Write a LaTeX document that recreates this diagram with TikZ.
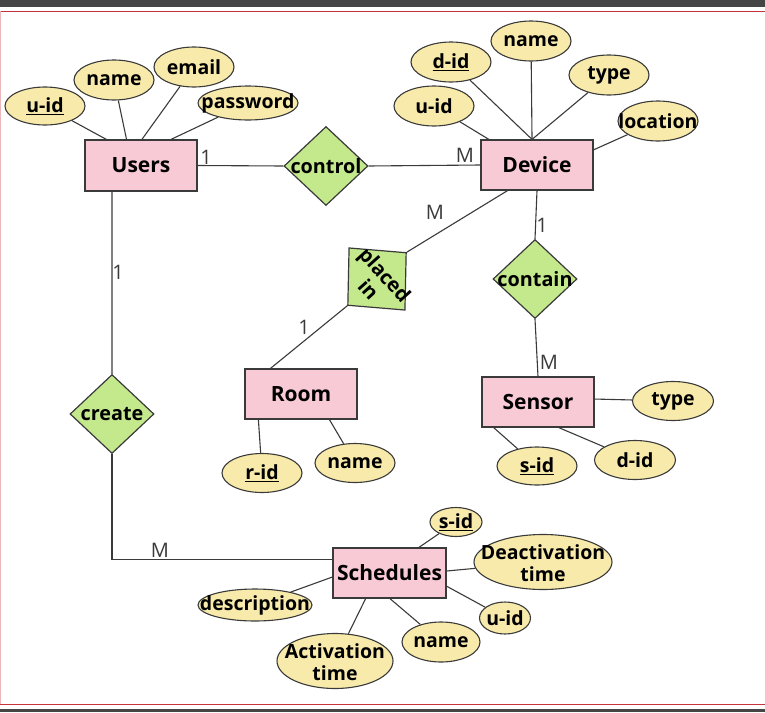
\documentclass[tikz,border=0pt]{standalone}
\usepackage{fontspec}
\setmainfont{Open Sans}
\usetikzlibrary{shapes.geometric}
\definecolor{ent}{HTML}{F8CAD6}
\definecolor{att}{HTML}{F8EAAA}
\definecolor{rel}{HTML}{C4E88C}
\definecolor{ln}{HTML}{3A3A3A}
\definecolor{bandc}{HTML}{454545}
\definecolor{redc}{HTML}{C8323C}
\newcommand\zb[1]{\makebox[0pt]{#1}}
\newcommand\ztwo[2]{\smash{\makebox[0pt]{\raisebox{-9pt}{\begin{tabular}{@{}c@{}}#1\\#2\end{tabular}}}}}
\begin{document}
\begin{tikzpicture}[x=1pt,y=-1pt,
 entity/.style={rectangle, draw=ln, fill=ent, line width=1.2pt, minimum width=112pt, minimum height=50pt, inner sep=0pt, font=\fontsize{21}{24}\selectfont\bfseries},
 attr/.style={ellipse, draw=ln, fill=att, line width=1.1pt, inner sep=0pt, font=\fontsize{19.5}{22}\selectfont\bfseries},
 reldia/.style={diamond, draw=ln, fill=rel, line width=1.2pt, inner sep=0pt, minimum width=84pt, minimum height=79pt},
 reltxt/.style={font=\fontsize{19.8}{22}\selectfont\bfseries, inner sep=0pt},
 card/.style={font=\fontsize{20}{22}\selectfont, text=ln, inner sep=0pt},
 conn/.style={draw=ln, line width=1.1pt}]
\useasboundingbox (0,0) rectangle (765,712);
% frame
\fill[bandc] (0,0) rectangle (765,7);
\draw[redc, line width=1pt] (0,11) -- (765,11);
\draw[redc, line width=1pt] (0,704) -- (765,704);
\fill[bandc] (0,708.5) rectangle (765,712);
\draw[redc!35, line width=1pt] (0.5,11) -- (0.5,704);
% entities
\node[entity, minimum height=51pt] (users) at (141,165.5) {Users};
\node[entity] (device) at (537,165) {Device};
\node[entity] (room) at (301,394) {Room};
\node[entity] (sensor) at (538,402) {Sensor};
\node[entity, minimum width=113pt] (sched) at (389.5,573) {Schedules};
% relationships
\node[reldia] (control) at (326,166) {};
\node[reltxt] (controlt) at (control) {control};
\node[reldia, rotate=-48] (placed) at (377,279) {};
\node[reltxt, rotate=-48, align=center, font=\fontsize{20}{22}\selectfont\bfseries] (placedt) at (377,282) {placed\\in};
\node[reldia] (contain) at (535,279) {};
\node[reltxt] (containt) at (contain) {contain};
\node[reldia] (create) at (112,414) {};
\node[reltxt] (createt) at (create) {create};
% attributes
\node[attr, minimum width=80pt, minimum height=38pt] (uuid) at (45,106) {\zb{\underline{u-id}}};
\node[attr, minimum width=80pt, minimum height=40pt] (uname) at (114,80) {\zb{name}};
\node[attr, minimum width=80pt, minimum height=40pt] (uemail) at (194,67) {\zb{email}};
\node[attr, minimum width=100pt, minimum height=34pt] (upass) at (248,103) {\zb{password}};
\node[attr, minimum width=80pt, minimum height=40pt] (dname) at (531,41) {\zb{name}};
\node[attr, minimum width=80pt, minimum height=40pt] (ddid) at (451,62) {\zb{\underline{d-id}}};
\node[attr, minimum width=80pt, minimum height=40pt] (dtype) at (609,75) {\zb{type}};
\node[attr, minimum width=80pt, minimum height=40pt] (duid) at (434,106) {\zb{u-id}};
\node[attr, minimum width=80pt, minimum height=40pt] (dloc) at (658,121) {\zb{location}};
\node[attr, minimum width=80pt, minimum height=39pt] (rrid) at (262,473) {\zb{\underline{r-id}}};
\node[attr, minimum width=80pt, minimum height=39pt] (rname) at (355,463) {\zb{name}};
\node[attr, minimum width=81pt, minimum height=39pt] (stype) at (673,401) {\zb{type}};
\node[attr, minimum width=80pt, minimum height=38pt] (ssid) at (537,466) {\zb{\underline{s-id}}};
\node[attr, minimum width=81pt, minimum height=39pt] (sdid) at (635,460) {\zb{d-id}};
\node[attr, minimum width=52pt, minimum height=29pt] (hsid) at (456,522) {\zb{\underline{s-id}}};
\node[attr, minimum width=138pt, minimum height=55pt] (hdeact) at (543,562) {\ztwo{Deactivation}{time}};
\node[attr, minimum width=51pt, minimum height=32pt] (huid) at (505,618) {\zb{u-id}};
\node[attr, minimum width=78pt, minimum height=40pt] (hname) at (441,642) {\zb{name}};
\node[attr, minimum width=116pt, minimum height=55pt] (hact) at (335,661) {\ztwo{Activation}{time}};
\node[attr, minimum width=114pt, minimum height=32pt] (hdesc) at (255,605) {\zb{description}};
% connectors
\draw[conn] (uuid) -- (users.143);
\draw[conn] (uname) -- (users.119);
\draw[conn] (uemail) -- (users.88);
\draw[conn] (upass) -- (users.41);
\draw[conn] (users.east) -- (control.west);
\draw[conn] (control.east) -- (device.west);
\draw[conn] (duid) -- (device.152);
\draw[conn] (ddid) -- (device.101);
\draw[conn] (dname) -- (device.101);
\draw[conn] (dtype) -- (device.101);
\draw[conn] (dloc) -- (device.15);
\draw[conn] (device.221) -- (placed.north);
\draw[conn] (placed.south) -- (room.140);
\draw[conn] (device.south) -- (contain.north);
\draw[conn] (contain.south) -- (sensor.north);
\draw[conn] (rrid) -- (room.211);
\draw[conn] (rname) -- (room.318);
\draw[conn] (stype) -- (sensor.3);
\draw[conn] (ssid) -- (sensor.210);
\draw[conn] (sdid) -- (sensor.309);
\draw[conn] (users.222) -- (create.north);
\draw[conn] (create.south) |- (sched.167);
\draw[conn] (hsid) -- (sched.41);
\draw[conn] (hdeact) -- (sched.2);
\draw[conn] (huid) -- (sched.-13);
\draw[conn] (hname) -- (sched.271);
\draw[conn] (hact) -- (sched.227);
\draw[conn] (hdesc) -- (sched.184);
% cardinalities
\node[card] (c1) at (206,157) {1};
\node[card] (c2) at (465,155) {M};
\node[card] (c3) at (435,212) {M};
\node[card] (c4) at (304,327) {1};
\node[card] (c5) at (542,225) {1};
\node[card] (c6) at (549,362) {M};
\node[card] (c7) at (118,272) {1};
\node[card] (c8) at (160,550) {M};
\end{tikzpicture}
\end{document}
